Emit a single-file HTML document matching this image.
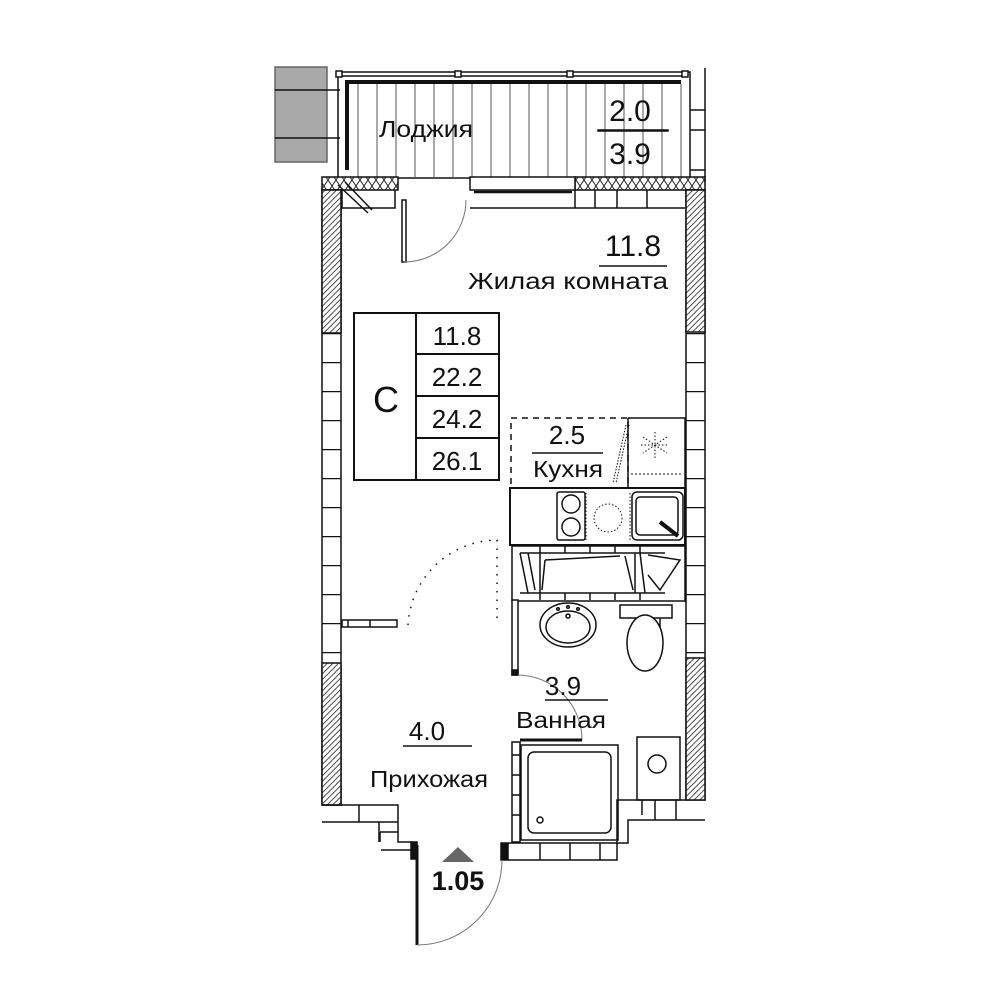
<!DOCTYPE html>
<html><head><meta charset="utf-8"><style>
html,body{margin:0;padding:0;background:#fff;width:1000px;height:1000px;overflow:hidden}
text{font-family:"Liberation Sans",sans-serif;fill:#111}
</style></head><body>
<svg width="1000" height="1000" viewBox="0 0 1000 1000" xmlns="http://www.w3.org/2000/svg">
<defs>
<pattern id="h" width="4" height="4" patternUnits="userSpaceOnUse" patternTransform="rotate(45)">
<rect width="4" height="4" fill="#fff"/><line x1="0" y1="0" x2="0" y2="4" stroke="#222" stroke-width="1.6"/></pattern>
<pattern id="z" width="8" height="12" patternUnits="userSpaceOnUse">
<rect width="8" height="12" fill="#fff"/><path d="M0 0 L4 6 L0 12 M8 0 L4 6 L8 12 M0 0 L8 12 M8 0 L0 12" stroke="#222" stroke-width="1" fill="none"/></pattern>
<pattern id="br" width="20" height="29" patternUnits="userSpaceOnUse" y="333">
<rect width="20" height="29" fill="#fff"/><line x1="0" y1="0.5" x2="20" y2="0.5" stroke="#111" stroke-width="1.5"/></pattern>
</defs>
<g stroke="#111" fill="none" stroke-width="1.5">
<rect x="275" y="67" width="52" height="95" fill="#a9a9a9" stroke="#666"/>
<line x1="275" y1="90" x2="340" y2="90"/><line x1="275" y1="138" x2="340" y2="138"/>
<rect x="338" y="72" width="352" height="106"/>
<line x1="340" y1="76" x2="688" y2="76"/>
<line x1="345" y1="82" x2="681" y2="82" stroke-width="4"/>
<line x1="347" y1="82" x2="347" y2="170" stroke-width="4"/>
<g stroke-width="1" stroke="#555">
<path d="M358 84V178M377 84V178M396 84V178M415 84V178M434 84V178M453 84V178M472 84V178M491 84V178M510 84V178M529 84V178M548 84V178M567 84V178M586 84V178M605 84V178M624 84V178M643 84V178M662 84V178M681 84V178"/>
</g>
<rect x="598" y="130" width="70" height="1" fill="#111"/>
<path d="M690 110H705M690 130H705M690 170H705M705 68V185"/>
<g fill="#fff"><rect x="336" y="71" width="6" height="6"/><rect x="455" y="71" width="6" height="6"/><rect x="567" y="71" width="6" height="6"/><rect x="682" y="71" width="6" height="6"/></g>
<rect x="322" y="177" width="76" height="13" fill="url(#z)"/>
<rect x="575" y="177" width="130" height="13" fill="url(#z)"/>
<rect x="470" y="177" width="105" height="13" fill="#fff"/>
<line x1="474" y1="192" x2="572" y2="192" stroke-width="2.5"/>
<line x1="470" y1="208" x2="575" y2="208"/>
<path d="M575 190V208M595 190V208M617 190V208M647 190V208M685 208H575"/>
<path d="M342 190V208H395V190M338 185L368 213M345 182L372 210"/>
<rect x="402" y="200" width="4" height="62"/>
<path d="M404 262A62 62 0 0 0 466 200" stroke-width="1" stroke="#777"/>
<rect x="322" y="190" width="19" height="615" fill="url(#br)"/>
<rect x="322" y="190" width="19" height="143" fill="url(#h)"/>
<rect x="322" y="663" width="19" height="142" fill="url(#h)"/>
<rect x="686" y="190" width="19" height="610" fill="url(#br)"/>
<rect x="686" y="190" width="19" height="142" fill="url(#h)"/>
<rect x="686" y="658" width="19" height="142" fill="url(#h)"/>
<rect x="354" y="313" width="145" height="167" stroke-width="2"/>
<path d="M416 313V480M416 354H499M416 396H499M416 438H499" stroke-width="2"/>
<rect x="511" y="418" width="117" height="70" stroke-dasharray="6 5"/>
<path d="M628 418H685V488M628 418V488"/>
<path d="M631 474H682" stroke-dasharray="2 2" stroke-width="1"/>
<path d="M626 425L613 483M629 425L616 483" stroke-dasharray="1.5 1.5" stroke-width="1"/>
<g stroke-dasharray="1.5 2" stroke-width="1"><path d="M655 432V458M643 437L667 453M667 437L643 453M641 445H669"/></g>
<rect x="510" y="488" width="175" height="57" stroke-width="2"/>
<rect x="557" y="492" width="28" height="48" rx="2"/>
<circle cx="571" cy="504" r="9"/><circle cx="571" cy="527" r="9"/>
<circle cx="608" cy="518" r="14" stroke-dasharray="1.5 2" stroke-width="1"/>
<path d="M586 493V540M630 493V540" stroke-dasharray="1.5 2" stroke-width="1"/>
<rect x="632" y="492" width="51" height="48" rx="5"/><rect x="636" y="497" width="42" height="38" rx="4"/>
<path d="M660 522L678 536" stroke-width="4"/>
<rect x="512" y="546" width="173" height="55"/>
<path d="M520 553H665M520 593H665M540 546V553M565 546V553M590 546V553M615 546V553M640 546V553M540 593V600M565 593V600M590 593V600M615 593V600M640 593V600"/>
<path d="M520 553L528 593M528 553L535 590M540 553V593M545 560L620 556M545 560L542 590M625 556L633 590M635 553V593M640 553L645 593M648 555L680 560L660 590L648 575"/>
<rect x="512" y="600" width="6" height="75" fill="#fff"/>
<rect x="512" y="670" width="6" height="5" fill="#111"/>
<path d="M518 675A65 65 0 0 1 582 740" stroke="#777" stroke-width="1"/>
<ellipse cx="568" cy="625" rx="28" ry="22"/><ellipse cx="568" cy="627" rx="22" ry="16"/>
<circle cx="568" cy="616" r="2"/><circle cx="558" cy="609" r="1.3"/><circle cx="568" cy="607" r="1.3"/><circle cx="578" cy="609" r="1.3"/>
<path d="M620 605H672V618H620Z M633 618H660V632"/>
<ellipse cx="645" cy="643" rx="18" ry="28" fill="#fff"/>
<path d="M408 625A90 90 0 0 1 498 540" stroke-dasharray="1.5 7" stroke-width="1.5"/>
<path d="M497 540V625" stroke-dasharray="1.5 7" stroke-width="1.5"/>
<rect x="342" y="620" width="55" height="7"/><path d="M348 620V627M370 620V627"/>
<path d="M520 740H582" stroke-width="3"/>
<rect x="512" y="742" width="8" height="100"/>
<path d="M512 755H520M512 775H520M512 795H520M512 815H520"/>
<rect x="521" y="745" width="97" height="95"/><rect x="528" y="752" width="83" height="81" rx="6"/>
<circle cx="540" cy="820" r="3"/>
<rect x="637" y="737" width="43" height="63"/><circle cx="657" cy="764" r="9"/>
<path d="M508 843H617V800H686M617 843H628V820H705M642 800V815M655 800V820M676 800V820M508 860H617V843M540 843V860M570 843V860M600 843V860"/>
<rect x="501" y="843" width="7" height="17" fill="#111"/>
<path d="M322 805H398V842H413M322 822H379V842M359 805V822M379 822H398M380 832H398M380 842V832"/>
<path d="M381 850H415" />
<rect x="411" y="842" width="6" height="17" fill="#111"/>
<line x1="417" y1="845" x2="417" y2="945" stroke-width="3"/>
<path d="M417 945A85 85 0 0 0 502 860" stroke="#777" stroke-width="1"/>
<path d="M599 266H667M545 700H608M403 746H472M532 453H603" stroke-width="1.5"/>
</g>
<polygon points="442,862 458,847 474,862" fill="#666"/>
<g font-size="23">
<text x="379" y="137" textLength="94" lengthAdjust="spacingAndGlyphs">Лоджия</text>
<text x="630" y="121" text-anchor="middle" font-size="30">2.0</text>
<text x="630" y="164" text-anchor="middle" font-size="30">3.9</text>
<text x="633" y="256" text-anchor="middle" font-size="30">11.8</text>
<text x="468" y="289" textLength="200" lengthAdjust="spacingAndGlyphs">Жилая комната</text>
<text x="386" y="412" text-anchor="middle" font-size="36">C</text>
<text x="457" y="345" text-anchor="middle" font-size="26">11.8</text>
<text x="457" y="386" text-anchor="middle" font-size="26">22.2</text>
<text x="457" y="428" text-anchor="middle" font-size="26">24.2</text>
<text x="457" y="470" text-anchor="middle" font-size="26">26.1</text>
<text x="567" y="444" text-anchor="middle" font-size="26">2.5</text>
<text x="533" y="477" textLength="70" lengthAdjust="spacingAndGlyphs">Кухня</text>
<text x="563" y="695" text-anchor="middle" font-size="26">3.9</text>
<text x="516" y="728" textLength="90" lengthAdjust="spacingAndGlyphs">Ванная</text>
<text x="427" y="740" text-anchor="middle" font-size="26">4.0</text>
<text x="370" y="787" textLength="118" lengthAdjust="spacingAndGlyphs">Прихожая</text>
<text x="458" y="890" text-anchor="middle" font-size="27" font-weight="bold">1.05</text>
</g>
</svg>
</body></html>
